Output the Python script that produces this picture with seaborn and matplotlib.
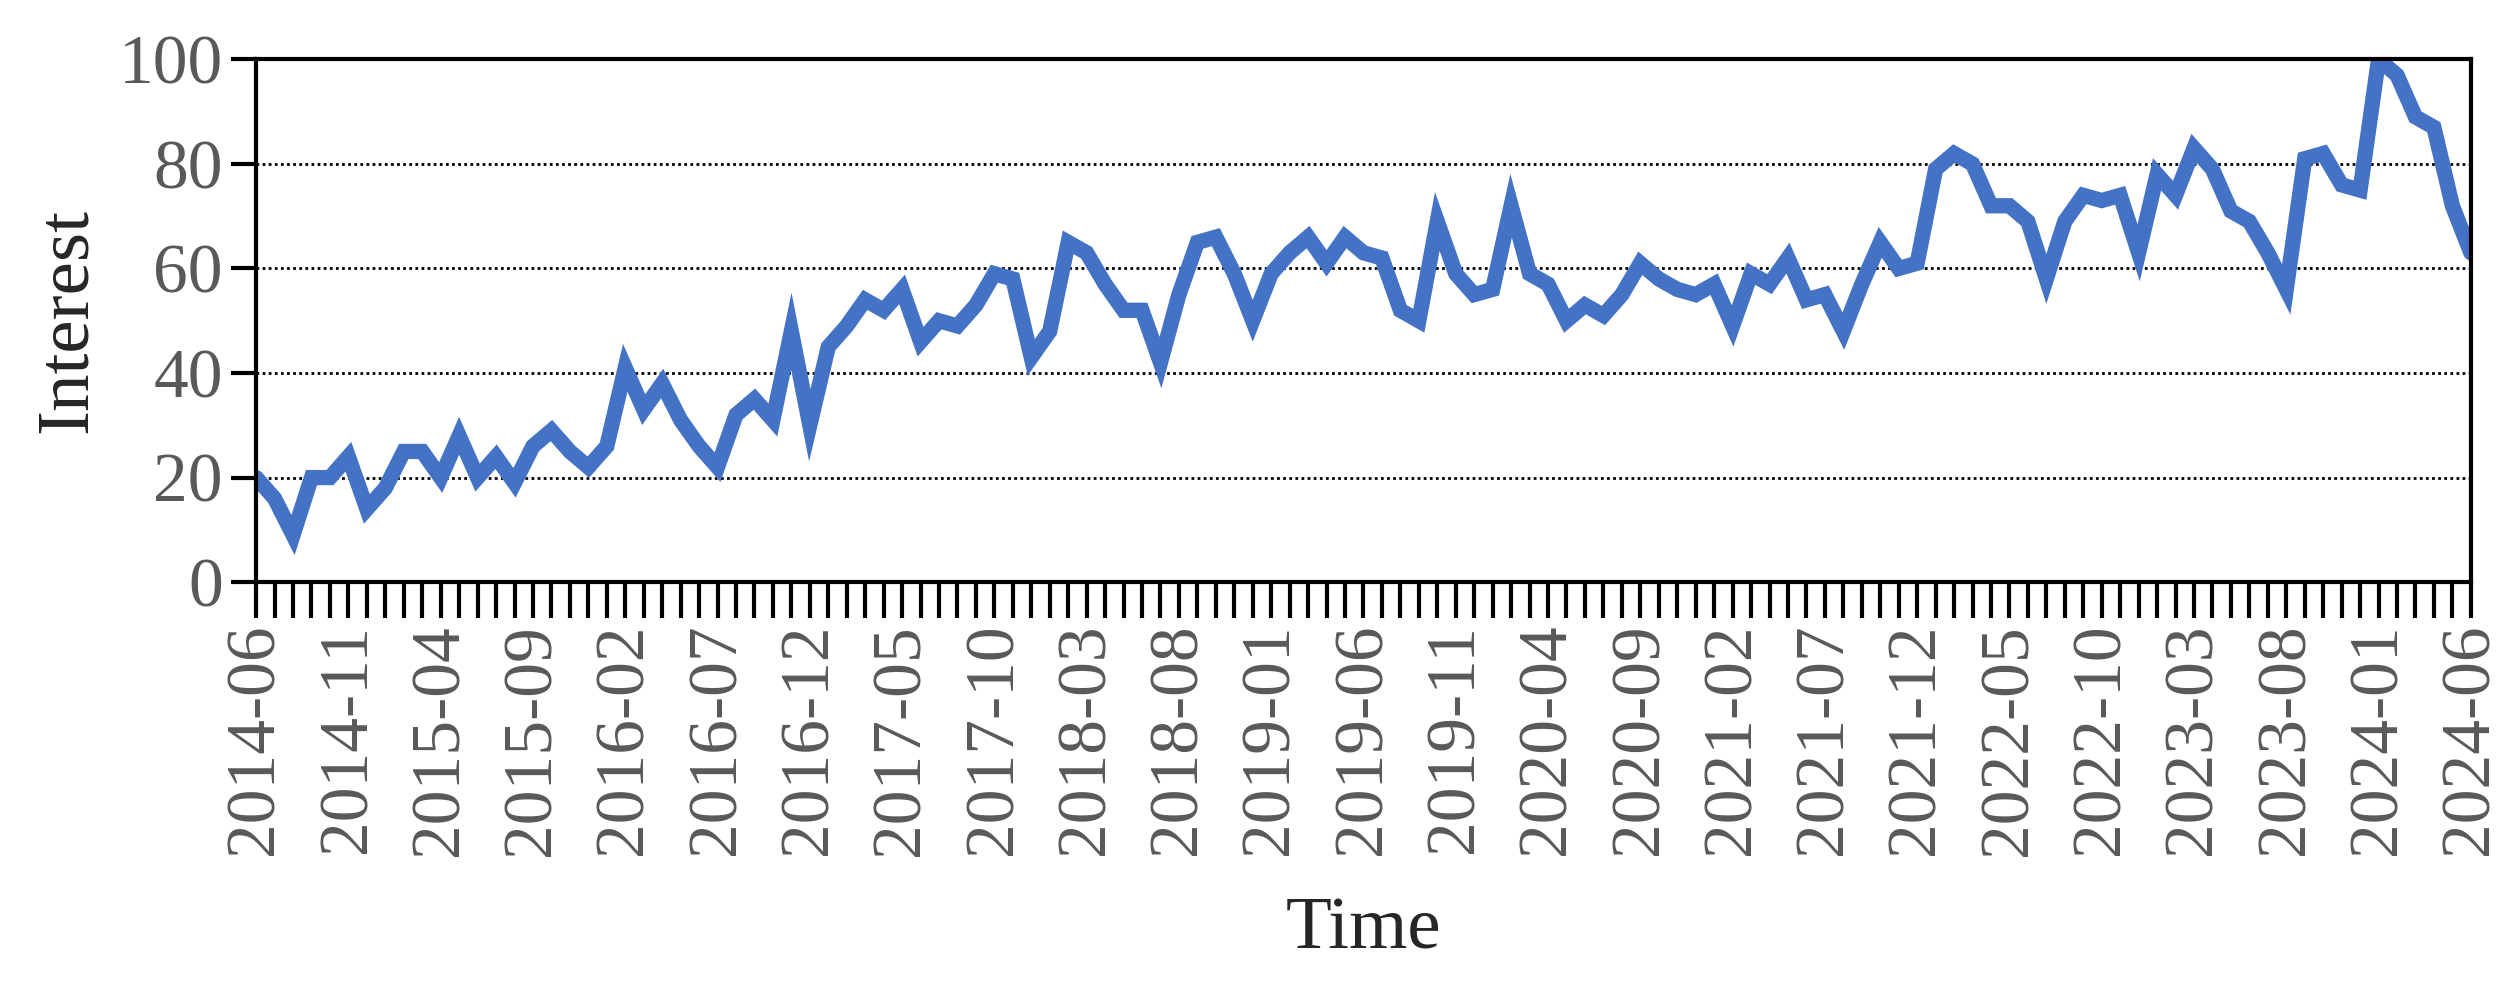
import pandas as pd
import seaborn as sns
import matplotlib.pyplot as plt

START = "2014-06"
MONTHS = 121

interest = [
    20, 16, 9, 20, 20, 24, 14, 18, 25, 25, 20,
    28, 20, 24, 19, 26, 29, 25, 22, 26, 41,
    33, 38, 31, 26, 22, 32, 35, 31, 48, 30,
    45, 49, 54, 52, 56, 46, 50, 49, 53, 59,
    58, 43, 48, 65, 63, 57, 52, 52, 42, 55,
    65, 66, 59, 50, 59, 63, 66, 61, 66, 63,
    62, 52, 50, 69, 59, 55, 56, 72, 59, 57,
    50, 53, 51, 55, 61, 58, 56, 55, 57, 49,
    59, 57, 62, 54, 55, 48, 57, 65, 60, 61,
    79, 82, 80, 72, 72, 69, 58, 69, 74, 73,
    74, 63, 78, 74, 83, 79, 71, 69, 63, 56,
    81, 82, 76, 75, 100, 97, 89, 87, 72, 63,
]

months = pd.period_range(START, periods=MONTHS, freq="M").strftime("%Y-%m")
df = pd.DataFrame({"idx": range(len(interest)), "month": months, "interest": interest})

sns.set_style("white")
plt.rcParams["font.family"] = ["Liberation Serif", "DejaVu Serif"]

fig, ax = plt.subplots(figsize=(25.11, 9.9), dpi=100)
fig.subplots_adjust(left=0.102, right=0.984, top=0.94, bottom=0.412)

sns.lineplot(data=df, x="idx", y="interest", ax=ax, color="#4472C4", linewidth=11,
             solid_joinstyle="miter")

ax.set_xlim(0, len(interest) - 1)
ax.set_ylim(0, 100)
ax.set_yticks(range(0, 101, 20))
ax.yaxis.grid(True, linestyle=(0, (1, 1.2)), color="black", linewidth=2)
ax.set_axisbelow(True)

ax.set_xticks(df["idx"])
ax.set_xticklabels([m if i % 5 == 0 else "" for i, m in enumerate(df["month"])], rotation=90)

ax.tick_params(axis="x", bottom=True, length=26, width=3, direction="out", color="black",
               labelsize=50, labelcolor="#595959", pad=4)
ax.tick_params(axis="y", left=True, length=18, width=3, direction="out", color="black",
               labelsize=50, labelcolor="#595959", pad=6)

for s in ax.spines.values():
    s.set_color("black")
    s.set_linewidth(3)

ax.set_xlabel("Time", fontsize=54, labelpad=30)
ax.set_ylabel("Interest", fontsize=54, labelpad=12)

plt.savefig("out.png")
